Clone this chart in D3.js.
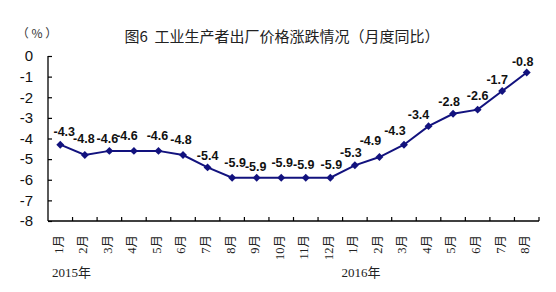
<!DOCTYPE html>
<html>
<head>
<meta charset="utf-8">
<script src="https://cdn.jsdelivr.net/npm/d3@7/dist/d3.min.js"></script>
<style>
  html, body { margin: 0; padding: 0; background: #fff; }
  svg { display: block; }
</style>
</head>
<body>
<svg id="chart" width="556" height="292"></svg>
<script>
// ---- data ----
const months = ["1月","2月","3月","4月","5月","6月","7月","8月","9月","10月","11月","12月",
                "1月","2月","3月","4月","5月","6月","7月","8月"];
const values = [-4.3,-4.8,-4.6,-4.6,-4.6,-4.8,-5.4,-5.9,-5.9,-5.9,-5.9,-5.9,
                -5.3,-4.9,-4.3,-3.4,-2.8,-2.6,-1.7,-0.8];
const yTicks = [0,-1,-2,-3,-4,-5,-6,-7,-8];
const years = [{label:"2015年", index:0}, {label:"2016年", index:12}];
const title = "图6\u00a0\u00a0工业生产者出厂价格涨跌情况（月度同比）";
const unit = "（\u00a0%\u00a0）";
// label nudges (dx, dy) relative to each point, as placed in the original
const labelOffsets = [[4,-13],[-1,-16],[-2,-12],[-7,-15],[-1,-15],[-2,-15],[0,-12],[3,-15],[-1,-11],[1,-15],
                      [-2,-13],[1,-13],[-4,-13],[-9,-16],[-9,-14],[-10,-12],[-4,-12],[0,-14],[-5,-11],[-4,-11]];

// ---- layout ----
const svg = d3.select("#chart");
const mLeft = 48, mRight = 539, mTop = 56, mBottom = 221;
const lineColor = "#12127e";

const x = d3.scaleBand().domain(d3.range(months.length)).range([mLeft, mRight]);
const y = d3.scaleLinear().domain([-8, 0]).range([mBottom, mTop]);

// title
svg.append("text")
  .attr("x", 282).attr("y", 42)
  .attr("text-anchor", "middle")
  .attr("font-family", "'Noto Sans CJK SC', sans-serif")
  .attr("font-size", 15)
  .attr("fill", "#222")
  .text(title);

svg.append("text")
  .attr("x", 37).attr("y", 38)
  .attr("text-anchor", "middle")
  .attr("font-family", "'Noto Sans CJK SC', sans-serif")
  .attr("font-size", 12)
  .attr("fill", "#333")
  .text(unit);

// y axis
const yAxis = d3.axisLeft(y).tickValues(yTicks).tickSize(-4).tickPadding(15).tickFormat(d3.format("d"));
const gy = svg.append("g").attr("transform", `translate(${mLeft},0)`).call(yAxis);
gy.select(".domain").attr("d", `M0,${mTop}V${mBottom}`).attr("stroke", "#000").attr("stroke-width", 1.3);
gy.selectAll(".tick line").attr("stroke", "#000").attr("stroke-width", 1.2);
gy.selectAll(".tick text")
  .attr("font-family", "Arial, 'Liberation Sans', sans-serif")
  .attr("font-size", 15).attr("fill", "#111")
  .text(d => String(d));

// x axis
const gx = svg.append("g").attr("transform", `translate(0,${mBottom})`);
gx.append("line").attr("x1", mLeft).attr("x2", mRight).attr("stroke", "#000").attr("stroke-width", 1.3);
const boundaries = d3.range(months.length).map(i => x(i) + x.bandwidth());
gx.selectAll("line.tk").data(boundaries).join("line").attr("class", "tk")
  .attr("x1", d => d).attr("x2", d => d).attr("y1", 0).attr("y2", -4)
  .attr("stroke", "#000").attr("stroke-width", 1.2);

svg.append("g").selectAll("text").data(months).join("text")
  .attr("transform", (d, i) => `translate(${x(i) + x.bandwidth() / 2 - 2},${mBottom + 14}) rotate(-90)`)
  .attr("text-anchor", "end")
  .attr("dy", "0.35em")
  .attr("font-family", "'Liberation Serif', 'Noto Sans CJK SC', serif")
  .attr("font-size", 12.5)
  .attr("fill", "#222")
  .text(d => d);

svg.append("g").selectAll("text").data(years).join("text")
  .attr("x", d => x(d.index) + (d.index === 0 ? 4 : -1))
  .attr("y", 277)
  .attr("font-family", "'Liberation Serif', 'Noto Sans CJK SC', serif")
  .attr("font-size", 13)
  .attr("fill", "#222")
  .text(d => d.label);

// line
const cx = i => x(i) + x.bandwidth() / 2;
const line = d3.line().x((d, i) => cx(i)).y(d => y(d));
svg.append("path").datum(values)
  .attr("d", line).attr("fill", "none")
  .attr("stroke", lineColor).attr("stroke-width", 2);

svg.append("g").selectAll("path").data(values).join("path")
  .attr("d", d3.symbol(d3.symbolDiamond2, 40)())
  .attr("transform", (d, i) => `translate(${cx(i)},${y(d)})`)
  .attr("fill", lineColor);

svg.append("g").selectAll("text").data(values).join("text")
  .attr("x", (d, i) => cx(i) + labelOffsets[i][0])
  .attr("y", (d, i) => y(d) + labelOffsets[i][1])
  .attr("dy", "0.35em")
  .attr("text-anchor", "middle")
  .attr("font-family", "Arial, 'Liberation Sans', sans-serif")
  .attr("font-weight", "bold")
  .attr("font-size", 12.5)
  .attr("fill", "#111")
  .text(d => d.toFixed(1));
</script>
</body>
</html>
